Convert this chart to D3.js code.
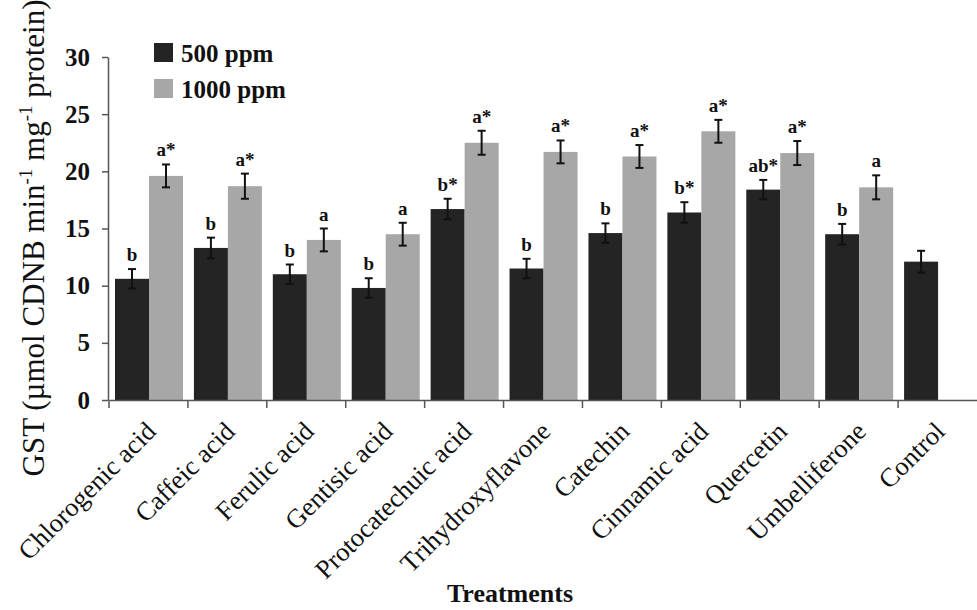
<!DOCTYPE html>
<html>
<head>
<meta charset="utf-8">
<script src="https://cdn.jsdelivr.net/npm/d3@7"></script>
<style>
  body { margin: 0; background: #fff; }
  svg { display: block; font-family: "Liberation Serif", "Times New Roman", serif; }
</style>
</head>
<body>
<svg id="chart" width="977" height="610"></svg>
<script>
// treatments on the x axis
const treatments = ["Chlorogenic acid", "Caffeic acid", "Ferulic acid", "Gentisic acid",
    "Protocatechuic acid", "Trihydroxyflavone", "Catechin", "Cinnamic acid",
    "Quercetin", "Umbelliferone", "Control"]
const seriesNames = ["500 ppm", "1000 ppm"]

// GST activity, null = no bar
const values500 = [10.6, 13.3, 11.0, 9.8, 16.7, 11.5, 14.6, 16.4, 18.4, 14.5, 12.1]
const values1000 = [19.6, 18.7, 14.0, 14.5, 22.5, 21.7, 21.3, 23.5, 21.6, 18.6, null]
const err500 = [0.85, 0.9, 0.85, 0.85, 0.9, 0.85, 0.85, 0.9, 0.85, 0.9, 0.95]
const err1000 = [1.0, 1.1, 1.0, 1.0, 1.05, 1.0, 1.0, 1.0, 1.05, 1.05, null]
const sig500 = ["b", "b", "b", "b", "b*", "b", "b", "b*", "ab*", "b", ""]
const sig1000 = ["a*", "a*", "a", "a", "a*", "a*", "a*", "a*", "a*", "a", ""]
const yTicks = [0, 5, 10, 15, 20, 25, 30]

const colors = {"500 ppm": "#242424", "1000 ppm": "#a7a7a7"}

const svg = d3.select("#chart")

// scales
const x0 = d3.scaleBand().domain(treatments).range([109, 977])
const x1 = d3.scaleBand().domain(seriesNames).range([6, 74])
const y = d3.scaleLinear().domain([0, 30]).range([400, 57])

// flatten the two series into one list of bars
let bars = []
treatments.forEach(function(t, i) {
    bars.push({t: t, s: "500 ppm", v: values500[i], e: err500[i], sig: sig500[i]})
    if (values1000[i] != null)
        bars.push({t: t, s: "1000 ppm", v: values1000[i], e: err1000[i], sig: sig1000[i]})
})

svg.append("g").selectAll("rect").data(bars)
    .join("rect")
    .attr("x", d => x0(d.t) + x1(d.s))
    .attr("y", d => y(d.v))
    .attr("width", x1.bandwidth())
    .attr("height", d => y(0) - y(d.v))
    .attr("fill", d => colors[d.s])

// error bars
const eb = svg.append("g").attr("stroke", "#111").attr("stroke-width", 2)
const cx = d => x0(d.t) + x1(d.s) + x1.bandwidth() / 2
eb.selectAll(".v").data(bars).join("line").attr("class", "v")
    .attr("x1", cx).attr("x2", cx)
    .attr("y1", d => y(d.v + d.e)).attr("y2", d => y(d.v - d.e))
eb.selectAll(".t").data(bars).join("line").attr("class", "t")
    .attr("x1", d => cx(d) - 4).attr("x2", d => cx(d) + 4)
    .attr("y1", d => y(d.v + d.e)).attr("y2", d => y(d.v + d.e))
eb.selectAll(".b").data(bars).join("line").attr("class", "b")
    .attr("x1", d => cx(d) - 4).attr("x2", d => cx(d) + 4)
    .attr("y1", d => y(d.v - d.e)).attr("y2", d => y(d.v - d.e))

// significance letters
svg.append("g").selectAll("text").data(bars.filter(d => d.sig))
    .join("text")
    .attr("x", cx)
    .attr("y", d => y(d.v + d.e) - 8)
    .attr("text-anchor", "middle")
    .attr("font-weight", "bold")
    .attr("font-size", 19)
    .attr("fill", "#111")
    .text(d => d.sig)

// y axis
const yAxis = svg.append("g")
    .attr("transform", "translate(108,0)")
    .call(d3.axisLeft(y).tickValues(yTicks).tickSize(6).tickPadding(12).tickSizeOuter(0))
yAxis.select(".domain").attr("stroke", "#555").attr("stroke-width", 1.5)
yAxis.selectAll(".tick line").attr("stroke", "#555").attr("stroke-width", 1.5)
yAxis.selectAll(".tick text")
    .attr("font-family", "Liberation Serif")
    .attr("font-size", 25).attr("font-weight", "bold").attr("fill", "#111")

// x axis: labels at band centers, ticks at band edges
const xAxis = svg.append("g")
    .attr("transform", "translate(0,400)")
    .call(d3.axisBottom(x0).tickSize(0).tickSizeOuter(0).tickPadding(0))
xAxis.select(".domain").attr("stroke", "#555").attr("stroke-width", 1.5)
xAxis.selectAll(".tick text")
    .attr("font-family", "Liberation Serif")
    .attr("font-size", 26.5).attr("fill", "#111")
    .attr("text-anchor", "end")
    .attr("dy", 0)
    .attr("transform", "translate(9,33) rotate(-45)")
xAxis.selectAll(".edge").data(treatments).join("line").attr("class", "edge")
    .attr("x1", d => x0(d)).attr("x2", d => x0(d))
    .attr("y1", 0).attr("y2", 8)
    .attr("stroke", "#555").attr("stroke-width", 1.5)

// axis titles
const yTitle = svg.append("text")
    .attr("transform", "translate(44,238) rotate(-90)")
    .attr("text-anchor", "middle")
    .attr("font-size", 31)
    .attr("fill", "#111")
yTitle.append("tspan").text("GST (µmol CDNB min")
yTitle.append("tspan").attr("font-size", 19).attr("dy", -12).text("-1")
yTitle.append("tspan").attr("dy", 12).text(" mg")
yTitle.append("tspan").attr("font-size", 19).attr("dy", -12).text("-1")
yTitle.append("tspan").attr("dy", 12).text(" protein)")

svg.append("text")
    .attr("x", 510).attr("y", 602)
    .attr("text-anchor", "middle")
    .attr("font-size", 26).attr("font-weight", "bold")
    .attr("fill", "#111")
    .text("Treatments")

// legend
const legend = svg.append("g").attr("transform", "translate(154,43)")
const items = legend.selectAll("g").data(seriesNames).join("g")
    .attr("transform", (d, i) => `translate(0, ${i * 36})`)
items.append("rect").attr("width", 19).attr("height", 19).attr("fill", d => colors[d])
items.append("text")
    .attr("x", 27).attr("y", 19)
    .attr("font-size", 25).attr("font-weight", "bold").attr("fill", "#111")
    .text(d => d)
</script>
</body>
</html>
